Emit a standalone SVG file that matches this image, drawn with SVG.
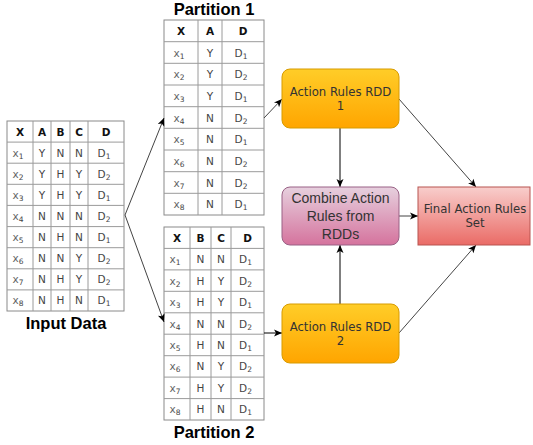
<svg xmlns="http://www.w3.org/2000/svg" width="533" height="445" viewBox="0 0 533 445">
<style>
.grid{fill:#fff;stroke:#8a8a8a;stroke-width:1}
.gl{stroke:#9a9a9a;stroke-width:1;fill:none}
.h{font-family:"DejaVu Sans",sans-serif;font-weight:bold;font-size:10.5px;fill:#111;text-anchor:middle}
.c{font-family:"DejaVu Sans",sans-serif;font-size:10.5px;fill:#444;text-anchor:middle}
.s{font-size:7.5px}
.ttl{font-family:"Liberation Sans",Arial,sans-serif;font-weight:bold;font-size:16.5px;fill:#000;text-anchor:middle}
.nt{font-family:"DejaVu Sans",sans-serif;font-size:11.7px;fill:#333;text-anchor:middle}
.ct{font-family:"Liberation Sans",Arial,sans-serif;font-size:14px;fill:#333;text-anchor:middle}
.e{fill:none;stroke:#000;stroke-width:1;marker-end:url(#arr)}
.eg{fill:none;stroke:#444;stroke-width:1;marker-end:url(#arr)}
</style>
<defs>
<marker id="arr" markerUnits="userSpaceOnUse" markerWidth="10" markerHeight="10" viewBox="0 0 10 10" refX="9" refY="5" orient="auto">
<path d="M1,1.5 L9,5 L1,8.5 L3,5 z" fill="#000"/>
</marker>
<linearGradient id="gOr" x1="0" y1="0" x2="0" y2="1"><stop offset="0" stop-color="#ffcd28"/><stop offset="1" stop-color="#ffa500"/></linearGradient>
<linearGradient id="gPk" x1="0" y1="0" x2="0" y2="1"><stop offset="0" stop-color="#e6d0de"/><stop offset="1" stop-color="#d5739d"/></linearGradient>
<linearGradient id="gRd" x1="0" y1="0" x2="0" y2="1"><stop offset="0" stop-color="#f8cecc"/><stop offset="1" stop-color="#ea6b66"/></linearGradient>
</defs>

<g id="input-data">
<rect class="grid" x="7" y="121" width="117" height="190"/>
<path class="gl" d="M33,121V311M51,121V311M70,121V311M88,121V311M7,142.1H124M7,163.2H124M7,184.3H124M7,205.4H124M7,226.6H124M7,247.7H124M7,268.8H124M7,289.9H124"/>
<text class="h" y="135.5"><tspan x="20">X</tspan><tspan x="42">A</tspan><tspan x="60.5">B</tspan><tspan x="79">C</tspan><tspan x="106">D</tspan></text>
<g class="c">
<text y="156.7"><tspan x="18" fill="#666">x</tspan><tspan class="s" dy="2">1</tspan><tspan x="42" dy="-2">Y</tspan><tspan x="60.5">N</tspan><tspan x="79">N</tspan><tspan x="104">D</tspan><tspan class="s" dy="2">1</tspan></text>
<text y="177.8"><tspan x="18" fill="#666">x</tspan><tspan class="s" dy="2">2</tspan><tspan x="42" dy="-2">Y</tspan><tspan x="60.5">H</tspan><tspan x="79">Y</tspan><tspan x="104">D</tspan><tspan class="s" dy="2">2</tspan></text>
<text y="198.9"><tspan x="18" fill="#666">x</tspan><tspan class="s" dy="2">3</tspan><tspan x="42" dy="-2">Y</tspan><tspan x="60.5">H</tspan><tspan x="79">Y</tspan><tspan x="104">D</tspan><tspan class="s" dy="2">1</tspan></text>
<text y="220"><tspan x="18" fill="#666">x</tspan><tspan class="s" dy="2">4</tspan><tspan x="42" dy="-2">N</tspan><tspan x="60.5">N</tspan><tspan x="79">N</tspan><tspan x="104">D</tspan><tspan class="s" dy="2">2</tspan></text>
<text y="241.1"><tspan x="18" fill="#666">x</tspan><tspan class="s" dy="2">5</tspan><tspan x="42" dy="-2">N</tspan><tspan x="60.5">H</tspan><tspan x="79">N</tspan><tspan x="104">D</tspan><tspan class="s" dy="2">1</tspan></text>
<text y="262.2"><tspan x="18" fill="#666">x</tspan><tspan class="s" dy="2">6</tspan><tspan x="42" dy="-2">N</tspan><tspan x="60.5">N</tspan><tspan x="79">Y</tspan><tspan x="104">D</tspan><tspan class="s" dy="2">2</tspan></text>
<text y="283.3"><tspan x="18" fill="#666">x</tspan><tspan class="s" dy="2">7</tspan><tspan x="42" dy="-2">N</tspan><tspan x="60.5">H</tspan><tspan x="79">Y</tspan><tspan x="104">D</tspan><tspan class="s" dy="2">2</tspan></text>
<text y="304.4"><tspan x="18" fill="#666">x</tspan><tspan class="s" dy="2">8</tspan><tspan x="42" dy="-2">N</tspan><tspan x="60.5">H</tspan><tspan x="79">N</tspan><tspan x="104">D</tspan><tspan class="s" dy="2">1</tspan></text>
</g>
<text class="ttl" x="66" y="329">Input Data</text>
</g>

<g id="partition-1">
<text class="ttl" x="214" y="15">Partition 1</text>
<rect class="grid" x="164" y="20" width="100" height="195"/>
<path class="gl" d="M198,20V215M222,20V215M164,41.7H264M164,63.3H264M164,85H264M164,106.7H264M164,128.3H264M164,150H264M164,171.7H264M164,193.3H264"/>
<text class="h" y="34.8"><tspan x="181">X</tspan><tspan x="210">A</tspan><tspan x="243">D</tspan></text>
<g class="c">
<text y="56.5"><tspan x="179" fill="#666">x</tspan><tspan class="s" dy="2">1</tspan><tspan x="210" dy="-2">Y</tspan><tspan x="241">D</tspan><tspan class="s" dy="2">1</tspan></text>
<text y="78.2"><tspan x="179" fill="#666">x</tspan><tspan class="s" dy="2">2</tspan><tspan x="210" dy="-2">Y</tspan><tspan x="241">D</tspan><tspan class="s" dy="2">2</tspan></text>
<text y="99.8"><tspan x="179" fill="#666">x</tspan><tspan class="s" dy="2">3</tspan><tspan x="210" dy="-2">Y</tspan><tspan x="241">D</tspan><tspan class="s" dy="2">1</tspan></text>
<text y="121.5"><tspan x="179" fill="#666">x</tspan><tspan class="s" dy="2">4</tspan><tspan x="210" dy="-2">N</tspan><tspan x="241">D</tspan><tspan class="s" dy="2">2</tspan></text>
<text y="143.2"><tspan x="179" fill="#666">x</tspan><tspan class="s" dy="2">5</tspan><tspan x="210" dy="-2">N</tspan><tspan x="241">D</tspan><tspan class="s" dy="2">1</tspan></text>
<text y="164.8"><tspan x="179" fill="#666">x</tspan><tspan class="s" dy="2">6</tspan><tspan x="210" dy="-2">N</tspan><tspan x="241">D</tspan><tspan class="s" dy="2">2</tspan></text>
<text y="186.5"><tspan x="179" fill="#666">x</tspan><tspan class="s" dy="2">7</tspan><tspan x="210" dy="-2">N</tspan><tspan x="241">D</tspan><tspan class="s" dy="2">2</tspan></text>
<text y="208.2"><tspan x="179" fill="#666">x</tspan><tspan class="s" dy="2">8</tspan><tspan x="210" dy="-2">N</tspan><tspan x="241">D</tspan><tspan class="s" dy="2">1</tspan></text>
</g>
</g>

<g id="partition-2">
<rect class="grid" x="164" y="227" width="100" height="193"/>
<path class="gl" d="M190,227V420M211,227V420M231,227V420M164,248.4H264M164,269.9H264M164,291.3H264M164,312.8H264M164,334.2H264M164,355.7H264M164,377.1H264M164,398.6H264"/>
<text class="h" y="241.7"><tspan x="177">X</tspan><tspan x="200.5">B</tspan><tspan x="221">C</tspan><tspan x="247.5">D</tspan></text>
<g class="c">
<text y="263.2"><tspan x="175" fill="#666">x</tspan><tspan class="s" dy="2">1</tspan><tspan x="200.5" dy="-2">N</tspan><tspan x="221">N</tspan><tspan x="245.5">D</tspan><tspan class="s" dy="2">1</tspan></text>
<text y="284.6"><tspan x="175" fill="#666">x</tspan><tspan class="s" dy="2">2</tspan><tspan x="200.5" dy="-2">H</tspan><tspan x="221">Y</tspan><tspan x="245.5">D</tspan><tspan class="s" dy="2">2</tspan></text>
<text y="306.1"><tspan x="175" fill="#666">x</tspan><tspan class="s" dy="2">3</tspan><tspan x="200.5" dy="-2">H</tspan><tspan x="221">Y</tspan><tspan x="245.5">D</tspan><tspan class="s" dy="2">1</tspan></text>
<text y="327.5"><tspan x="175" fill="#666">x</tspan><tspan class="s" dy="2">4</tspan><tspan x="200.5" dy="-2">N</tspan><tspan x="221">N</tspan><tspan x="245.5">D</tspan><tspan class="s" dy="2">2</tspan></text>
<text y="349"><tspan x="175" fill="#666">x</tspan><tspan class="s" dy="2">5</tspan><tspan x="200.5" dy="-2">H</tspan><tspan x="221">N</tspan><tspan x="245.5">D</tspan><tspan class="s" dy="2">1</tspan></text>
<text y="370.4"><tspan x="175" fill="#666">x</tspan><tspan class="s" dy="2">6</tspan><tspan x="200.5" dy="-2">N</tspan><tspan x="221">Y</tspan><tspan x="245.5">D</tspan><tspan class="s" dy="2">2</tspan></text>
<text y="391.9"><tspan x="175" fill="#666">x</tspan><tspan class="s" dy="2">7</tspan><tspan x="200.5" dy="-2">H</tspan><tspan x="221">Y</tspan><tspan x="245.5">D</tspan><tspan class="s" dy="2">2</tspan></text>
<text y="413.3"><tspan x="175" fill="#666">x</tspan><tspan class="s" dy="2">8</tspan><tspan x="200.5" dy="-2">H</tspan><tspan x="221">N</tspan><tspan x="245.5">D</tspan><tspan class="s" dy="2">1</tspan></text>
</g>
<text class="ttl" x="214" y="438">Partition 2</text>
</g>

<g id="connectors">
<path class="eg" d="M125,215 L164,118"/>
<path class="eg" d="M125,215 L164,322"/>
<path class="eg" d="M264,118 L282,99"/>
<path class="e" d="M264,333 H282"/>
<path class="e" d="M340,128 V187"/>
<path class="e" d="M340,304 V245"/>
<path class="eg" d="M399,216 H418"/>
<path class="eg" d="M399,99 L476,187"/>
<path class="eg" d="M399,333 L476,245"/>
</g>

<g id="rdd1">
<rect x="282" y="69" width="117" height="59" rx="8" fill="url(#gOr)" stroke="#d79b00"/>
<text class="nt" x="340.5" y="96">Action Rules RDD</text>
<text class="nt" x="340.5" y="110">1</text>
</g>
<g id="combine">
<rect x="282" y="187" width="117" height="58" rx="8" fill="url(#gPk)" stroke="#996185"/>
<text class="ct" x="340.5" y="203">Combine Action</text>
<text class="ct" x="340.5" y="221">Rules from</text>
<text class="ct" x="340.5" y="239">RDDs</text>
</g>
<g id="final">
<rect x="418" y="187" width="112" height="58" fill="url(#gRd)" stroke="#b85450"/>
<text class="nt" x="475" y="213">Final Action Rules</text>
<text class="nt" x="475" y="227">Set</text>
</g>
<g id="rdd2">
<rect x="282" y="304" width="117" height="59" rx="8" fill="url(#gOr)" stroke="#d79b00"/>
<text class="nt" x="340.5" y="331">Action Rules RDD</text>
<text class="nt" x="340.5" y="345">2</text>
</g>
</svg>
